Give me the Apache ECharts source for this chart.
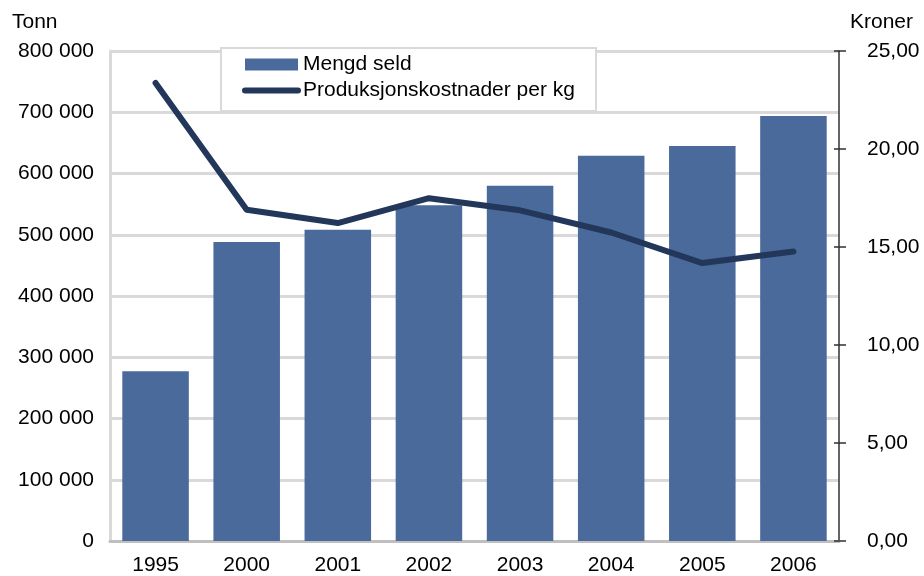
<!DOCTYPE html>
<html>
<head>
<meta charset="utf-8">
<script src="https://cdn.jsdelivr.net/npm/echarts@6/dist/echarts.min.js"></script>
<style>
  html, body { margin: 0; padding: 0; background: #fff; }
  #chart { width: 924px; height: 576px; }
</style>
</head>
<body>
<div id="chart"></div>
<script>
  // data
  var years = ['1995', '2000', '2001', '2002', '2003', '2004', '2005', '2006'];
  var mengdSeld = [277000, 488000, 508000, 548000, 580000, 629000, 645000, 694000];
  var kostnad = [23.37, 16.9, 16.22, 17.49, 16.87, 15.74, 14.18, 14.77];
  var tonnTicks = { min: 0, max: 800000, interval: 100000 };
  var kronerTicks = { min: 0, max: 25, interval: 5 };

  var font = "'Liberation Sans', Arial, sans-serif";
  var barColor = '#4a6a9b';
  var lineColor = '#22375a';

  function tonnFmt(v) {
    return String(v).replace(/\B(?=(\d{3})+(?!\d))/g, ' ');
  }
  function kronerFmt(v) {
    return v.toFixed(2).replace('.', ',');
  }

  var chart = echarts.init(document.getElementById('chart'));
  chart.setOption({
    animation: false,
    textStyle: { fontFamily: font },
    grid: { left: 110, right: 85, top: 51, bottom: 35 },
    graphic: [
      { type: 'text', left: 12, top: 12, style: { text: 'Tonn', font: '21px ' + font, fill: '#000' } },
      { type: 'text', left: 850, top: 12, style: { text: 'Kroner', font: '21px ' + font, fill: '#000' } }
    ],
    legend: {
      orient: 'vertical',
      left: 221,
      top: 48,
      padding: [6, 21, 10, 21],
      itemGap: 5,
      itemWidth: 53,
      itemHeight: 12,
      backgroundColor: '#fff',
      borderColor: '#d9d9d9',
      borderWidth: 2,
      borderRadius: 0,
      lineStyle: { width: 6, cap: 'round' },
      textStyle: { fontSize: 21, color: '#000', fontFamily: font },
      data: [
        { name: 'Mengd seld', icon: 'rect' },
        { name: 'Produksjonskostnader per kg', itemStyle: { opacity: 0 } }
      ]
    },
    xAxis: {
      type: 'category',
      data: years,
      axisLine: { lineStyle: { color: '#bfbfbf', width: 3 } },
      axisTick: { show: false },
      axisLabel: { color: '#000', fontSize: 21, margin: 14 }
    },
    yAxis: [
      {
        type: 'value',
        position: 'left',
        min: tonnTicks.min,
        max: tonnTicks.max,
        interval: tonnTicks.interval,
        axisLine: { show: true, lineStyle: { color: '#d9d9d9', width: 3 } },
        axisTick: { show: false },
        axisLabel: { color: '#000', fontSize: 21, margin: 16, formatter: tonnFmt },
        splitLine: { lineStyle: { color: '#d9d9d9', width: 3 } }
      },
      {
        type: 'value',
        position: 'right',
        min: kronerTicks.min,
        max: kronerTicks.max,
        interval: kronerTicks.interval,
        axisLine: { show: true, lineStyle: { color: '#303030', width: 1.5 } },
        axisTick: { show: true, inside: false, length: 7, lineStyle: { color: '#303030', width: 1.5 } },
        axisLabel: { color: '#000', fontSize: 21, margin: 28, formatter: kronerFmt },
        splitLine: { show: false }
      },
      {
        // inner half of the crossing ticks on the right axis
        type: 'value',
        position: 'right',
        min: kronerTicks.min,
        max: kronerTicks.max,
        interval: kronerTicks.interval,
        axisLine: { show: false },
        axisTick: { show: true, inside: true, length: 5, lineStyle: { color: '#303030', width: 1.5 } },
        axisLabel: { show: false },
        splitLine: { show: false }
      }
    ],
    series: [
      {
        name: 'Mengd seld',
        type: 'bar',
        data: mengdSeld,
        barCategoryGap: '27%',
        itemStyle: { color: barColor }
      },
      {
        name: 'Produksjonskostnader per kg',
        type: 'line',
        yAxisIndex: 1,
        data: kostnad,
        symbol: 'none',
        z: 5,
        itemStyle: { color: lineColor },
        lineStyle: { color: lineColor, width: 6, cap: 'round', join: 'round' }
      }
    ]
  });
</script>
</body>
</html>
